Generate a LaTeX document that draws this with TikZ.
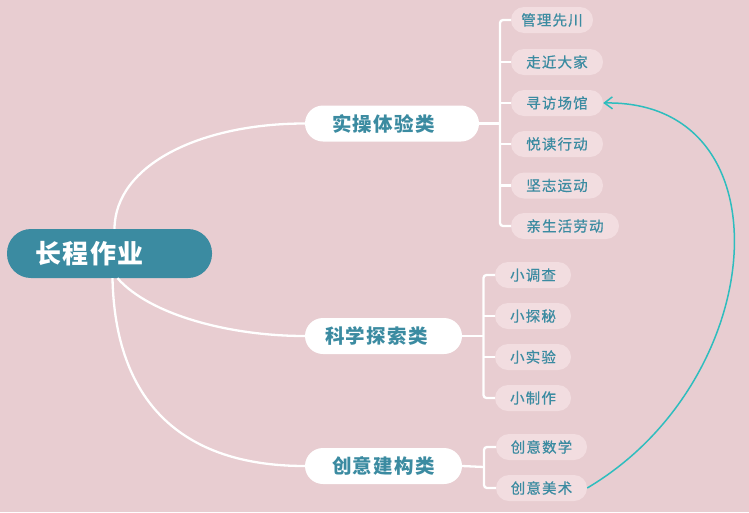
\documentclass[tikz,border=0pt]{standalone}
\usepackage{fontspec}
\setmainfont{Noto Sans CJK SC}
\usetikzlibrary{arrows.meta}
\definecolor{bgc}{HTML}{E8CDD1}
\definecolor{teal1}{HTML}{3B8BA1}
\definecolor{leaff}{HTML}{F2DDE0}
\definecolor{arrowc}{HTML}{2EBDBE}
\tikzset{
  rootbox/.style={fill=teal1, text=white, rounded corners=24pt, minimum height=49pt,
    inner xsep=28pt, text width=149pt, align=left,
    font=\fontsize{26}{28}\selectfont\bfseries\addfontfeature{LetterSpace=6}},
  branchbox/.style={fill=white, text=teal1, rounded corners=18pt, minimum height=36pt,
    inner xsep=0pt, align=left,
    font=\fontsize{19.5}{21}\selectfont\bfseries\addfontfeature{LetterSpace=7}},
  leafbox/.style={fill=leaff, text=teal1, rounded corners=13pt, minimum height=26pt,
    inner xsep=0pt, align=center,
    font=\fontsize{14.5}{16}\selectfont\addfontfeature{LetterSpace=8,FakeBold=0.6}},
  link/.style={draw=white, line width=2.3pt},
  brack/.style={draw=white, line width=2.3pt, rounded corners=3pt},
  rel/.style={draw=arrowc, line width=1.5pt, -{Straight Barb[length=8pt,width=12pt,line width=1.5pt]}}
}
\begin{document}
\begin{tikzpicture}[x=1pt,y=-1pt]
\useasboundingbox (0,0) rectangle (749,512);
\fill[bgc] (0,0) rectangle (749,512);

% root
\node[rootbox, minimum width=205pt] (root) at (109.5,253.5) {长程作业};

% branches
\node[branchbox, minimum width=174pt, text width=174pt] (b1) at (392,123.5) {\hspace*{27pt}实操体验类};
\node[branchbox, minimum width=157pt, text width=157pt] (b2) at (383.5,336) {\hspace*{20pt}科学探索类};
\node[branchbox, minimum width=157pt, text width=157pt] (b3) at (383.5,466) {\hspace*{27pt}创意建构类};

% leaves group 1
\node[leafbox, minimum width=82pt] (l1) at (552,20) {管理先川};
\node[leafbox, minimum width=92pt] (l2) at (557,62) {走近大家};
\node[leafbox, minimum width=92pt] (l3) at (557,103) {寻访场馆};
\node[leafbox, minimum width=92pt] (l4) at (557,144) {悦读行动};
\node[leafbox, minimum width=92pt] (l5) at (557,185.5) {坚志运动};
\node[leafbox, minimum width=108pt] (l6) at (565,226) {亲生活劳动};

% leaves group 2
\node[leafbox, minimum width=76pt] (m1) at (533,275) {小调查};
\node[leafbox, minimum width=76pt] (m2) at (533,316) {小探秘};
\node[leafbox, minimum width=76pt] (m3) at (533,357) {小实验};
\node[leafbox, minimum width=76pt] (m4) at (533,398) {小制作};

% leaves group 3
\node[leafbox, minimum width=91pt] (n1) at (541.5,447) {创意数学};
\node[leafbox, minimum width=91pt] (n2) at (541.5,488) {创意美术};

% bracket junctions
\coordinate (j1) at (500,123.5);
\coordinate (j2) at (483.5,336);
\coordinate (j3) at (484,467);

% root to branch curves
\path (root.north) ++(5,0) coordinate (rt);
\path (root.south) ++(8,0) coordinate (rb2);
\path (root.south) ++(3,0) coordinate (rb3);
\draw[link] (rt) .. controls (115,165) and (200,123.5) .. (b1.west);
\draw[link] (rb2) .. controls (150,315) and (230,336) .. (b2.west);
\draw[link] (rb3) .. controls (115,400) and (180,466) .. (b3.west);

% group 1 bracket
\draw[link] (b1.east) -- (j1);
\draw[brack] (l1.west) -| (j1) |- (l6.west);
\draw[link] (l2.west) -- (l2.west -| j1);
\draw[link] (l3.west) -- (l3.west -| j1);
\draw[link] (l4.west) -- (l4.west -| j1);
\draw[link] (l5.west) -- (l5.west -| j1);

% group 2 bracket
\draw[link] (b2.east) -- (j2);
\draw[brack] (m1.west) -| (j2) |- (m4.west);
\draw[link] (m2.west) -- (m2.west -| j2);
\draw[link] (m3.west) -- (m3.west -| j2);

% group 3 bracket
\draw[link] (b3.east) -- (j3);
\draw[brack] (n1.west) -| (j3) |- (n2.west);

% relation arrow
\draw[rel] (n2.east) .. controls (770,380) and (790,100) .. (l3.east);
\end{tikzpicture}
\end{document}
